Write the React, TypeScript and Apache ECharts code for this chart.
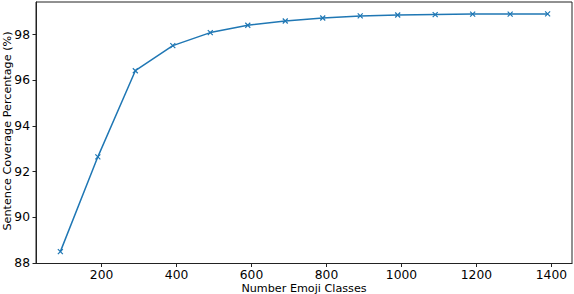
import React, { useEffect, useRef } from "react";
import * as echarts from "echarts";

const emojiClasses = [90, 190, 290, 390, 490, 590, 690, 790, 890, 990, 1090, 1190, 1290, 1390];
const coverage = [88.5, 92.65, 96.42, 97.52, 98.09, 98.41, 98.6, 98.73, 98.82, 98.86, 98.88, 98.9, 98.9, 98.91];
const xTicks = [200, 400, 600, 800, 1000, 1200, 1400];
const yTicks = [88, 90, 92, 94, 96, 98];
const xTitle = "Number Emoji Classes";
const yTitle = "Sentence Coverage Percentage (%)";

export default function App() {
  const ref = useRef<HTMLDivElement>(null);
  useEffect(() => {
    if (!ref.current) return;
    const chart = echarts.init(ref.current, null, { renderer: "svg" });
    const font = "DejaVu Sans";
    chart.setOption({
      animation: false,
      backgroundColor: "#ffffff",
      grid: {
        left: 36,
        right: 2,
        top: 2,
        bottom: 30.5,
        show: true,
        borderColor: "#222",
        borderWidth: 1,
        containLabel: false,
        outerBoundsMode: "none",
      },
      graphic: [
        {
          type: "text",
          x: 7.5,
          y: 131,
          rotation: Math.PI / 2,
          style: {
            text: yTitle,
            fontFamily: font,
            fontSize: 11.2,
            lineHeight: 12,
            fill: "#000",
            align: "center",
            verticalAlign: "middle",
          },
        },
        {
          type: "text",
          x: 304,
          y: 288,
          style: {
            text: xTitle,
            fontFamily: font,
            fontSize: 11.2,
            lineHeight: 12,
            fill: "#000",
            align: "center",
            verticalAlign: "middle",
          },
        },
      ],
      xAxis: {
        type: "value",
        min: 25,
        max: 1455,
        axisLine: { show: true, lineStyle: { color: "#222", width: 1 } },
        axisTick: { show: true, length: 3.5, inside: false, customValues: xTicks, lineStyle: { color: "#222" } },
        axisLabel: {
          customValues: xTicks,
          formatter: (v: number) => String(v),
          fontFamily: font,
          fontSize: 12.3,
          lineHeight: 12,
          color: "#000",
          margin: 5.5,
        },
        splitLine: { show: false },
      },
      yAxis: {
        type: "value",
        min: 87.98,
        max: 99.43,
        axisLine: { show: true, lineStyle: { color: "#222", width: 1 } },
        axisTick: { show: true, length: 3.5, inside: false, customValues: yTicks, lineStyle: { color: "#222" } },
        axisLabel: {
          customValues: yTicks,
          formatter: (v: number) => String(v),
          fontFamily: font,
          fontSize: 12.3,
          color: "#000",
          margin: 6,
        },
        splitLine: { show: false },
      },
      series: [
        {
          type: "line",
          data: emojiClasses.map((x, i) => [x, coverage[i]]),
          lineStyle: { color: "#1f77b4", width: 1.5 },
          symbol: "path://M0,0L10,10M10,0L0,10",
          symbolSize: 5,
          showSymbol: true,
          itemStyle: { color: "none", borderColor: "#1f77b4", borderWidth: 1.2 },
        },
      ],
    });
    return () => chart.dispose();
  }, []);
  return <div ref={ref} style={{ width: 574, height: 294, position: "absolute", left: 0, top: 0 }} />;
}
